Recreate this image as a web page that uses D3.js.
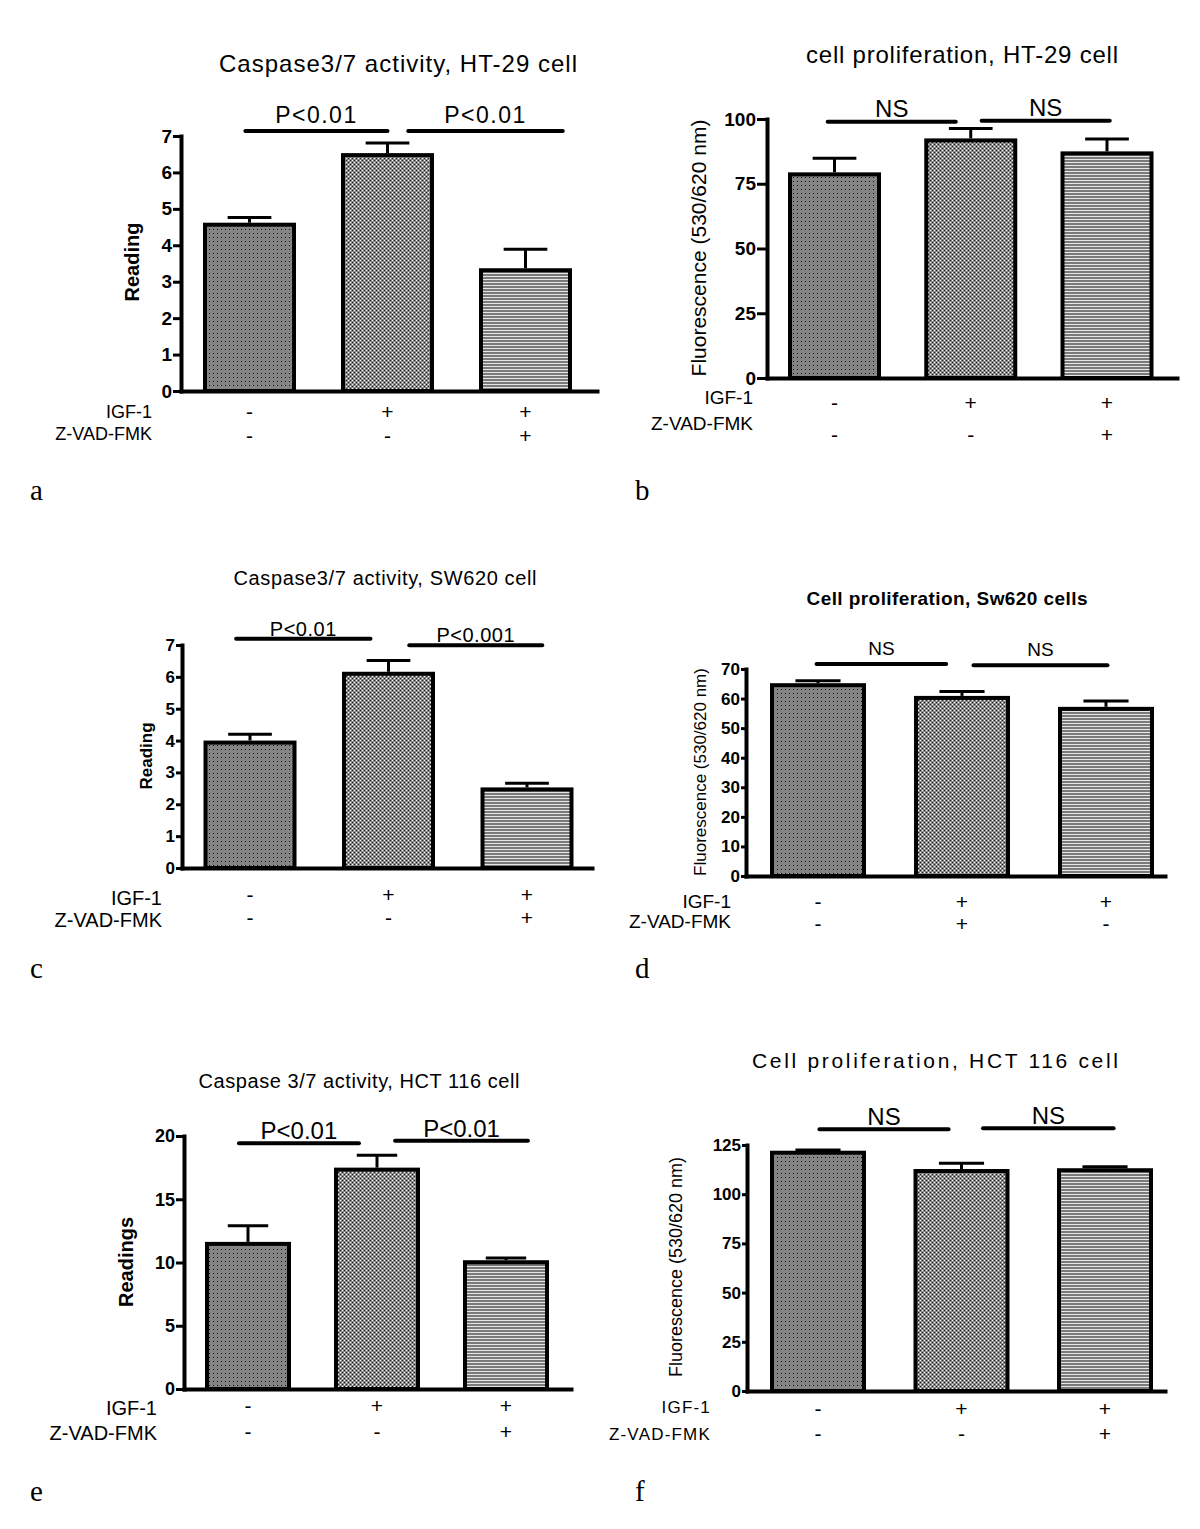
<!DOCTYPE html>
<html>
<head>
<meta charset="utf-8">
<script src="https://cdn.jsdelivr.net/npm/d3@7"></script>
<style>
  body { margin: 0; background: #fff; }
  svg { display: block; }
  text { font-family: "Liberation Sans", Arial, sans-serif; fill: #000; }
  text.letter { font-family: "Liberation Serif", "Times New Roman", serif; }
</style>
</head>
<body>
<svg id="fig" width="1200" height="1529"></svg>
<script>
// ---- data ----
const panelLetters = ['a', 'b', 'c', 'd', 'e', 'f'];
const titles = [
  'Caspase3/7 activity, HT-29 cell',
  'cell proliferation, HT-29 cell',
  'Caspase3/7 activity, SW620 cell',
  'Cell proliferation, Sw620 cells',
  'Caspase 3/7 activity, HCT 116 cell',
  'Cell proliferation, HCT 116 cell'
];
const yTitles = ['Reading', 'Fluorescence  (530/620 nm)', 'Reading',
  'Fluorescence (530/620 nm)', 'Readings', 'Fluorescence (530/620 nm)'];
const yMax = [7, 100, 7, 70, 20, 125];
const yStep = [1, 25, 1, 10, 5, 25];

const means = [
  [4.62, 6.53, 3.37],
  [79.4, 92.5, 87.5],
  [4.00, 6.16, 2.53],
  [65.2, 60.9, 57.2],
  [11.63, 17.5, 10.18],
  [122.1, 112.8, 113.2]
];
const sems = [
  [0.14, 0.28, 0.52],
  [5.4, 3.8, 4.8],
  [0.20, 0.35, 0.13],
  [0.8, 1.5, 2.0],
  [1.27, 0.97, 0.18],
  [0.3, 2.9, 0.8]
];
const igfRow = [
  ['-', '+', '+'], ['-', '+', '+'], ['-', '+', '+'],
  ['-', '+', '+'], ['-', '+', '+'], ['-', '+', '+']
];
const zvadRow = [
  ['-', '-', '+'], ['-', '-', '+'], ['-', '-', '+'],
  ['-', '+', '-'], ['-', '-', '+'], ['-', '-', '+']
];
// [from bar index, to bar index, height in axis units, label]
const sigBars = [
  [[-0.03, 1.0, 7.14, 'P<0.01'], [1.15, 2.27, 7.14, 'P<0.01']],
  [[-0.05, 0.89, 98.96, 'NS'], [1.08, 2.02, 99.3, 'NS']],
  [[-0.10, 0.87, 7.20, 'P<0.01'], [1.15, 2.11, 6.99, 'P<0.001']],
  [[-0.01, 0.89, 71.65, 'NS'], [1.08, 2.01, 71.3, 'NS']],
  [[-0.07, 0.86, 19.42, 'P<0.01'], [1.14, 2.17, 19.63, 'P<0.01']],
  [[0.01, 0.91, 132.98, 'NS'], [1.15, 2.06, 133.5, 'NS']]
];
const rowNames = ['IGF-1', 'Z-VAD-FMK'];

// ---- layout (pixels) ----
const layout = [
  { axisX: 181, axisEnd: 597, y0: 391, yTop: 136, c0: 249.5, c2: 525.5, bw: 93,
    title: [398, 72, 24, 358, 'normal'], ylab: [139, 262, 20, 'bold'], tick: [19, 8],
    rowX: 152, rowY: [418, 440], rowSize: 18, signY: [419, 443],
    sig: [23, 8, 1.5], letter: [30, 500] },
  { axisX: 767, axisEnd: 1177, y0: 378, yTop: 119, c0: 834.5, c2: 1107, bw: 93,
    title: [962, 63, 24, 312, 'normal'], ylab: [706, 248, 21, 'normal'], tick: [19, 10],
    rowX: 753, rowY: [404, 430], rowSize: 19, signY: [410, 442],
    sig: [24, 5, 0], letter: [635, 500] },
  { axisX: 182, axisEnd: 592, y0: 868, yTop: 645, c0: 250, c2: 527, bw: 93,
    title: [385, 585, 20, 303, 'normal'], ylab: [152, 756, 17, 'bold'], tick: [17, 6],
    rowX: 162, rowY: [905, 927], rowSize: 20, signY: [902, 925],
    sig: [20, 3, 0.5], letter: [30, 978] },
  { axisX: 746, axisEnd: 1165, y0: 876, yTop: 669, c0: 818, c2: 1106, bw: 96,
    title: [947, 605, 19, 281, 'bold'], ylab: [706, 772, 17, 'normal'], tick: [17, 5],
    rowX: 731, rowY: [908, 928], rowSize: 19, signY: [909, 931],
    sig: [19, 9, 0], letter: [635, 978] },
  { axisX: 184, axisEnd: 571, y0: 1389, yTop: 1136, c0: 248, c2: 506, bw: 86,
    title: [359, 1088, 20, 321, 'normal'], ylab: [133, 1262, 20, 'bold'], tick: [18, 8],
    rowX: 157, rowY: [1415, 1440], rowSize: 20, signY: [1413, 1439],
    sig: [24, 4, 0], letter: [30, 1501] },
  { axisX: 747, axisEnd: 1165, y0: 1391, yTop: 1145, c0: 818, c2: 1105, bw: 96,
    title: [935, 1068, 21, 366, 'normal'], ylab: [682, 1267, 18, 'normal'], tick: [17, 5],
    rowX: 711, rowY: [1413, 1440], rowSize: 17, signY: [1416, 1441],
    sig: [24, 4, 0], letter: [635, 1501] }
];
const fills = ['dots', 'grid', 'stripes'];

const svg = d3.select('#fig');
svg.append('rect').attr('width', 1200).attr('height', 1529).attr('fill', '#fff');

// hatch patterns like the Prism bars
const defs = svg.append('defs');
const pDots = defs.append('pattern').attr('id', 'dots').attr('patternUnits', 'userSpaceOnUse')
  .attr('width', 4).attr('height', 4);
pDots.append('rect').attr('width', 4).attr('height', 4).attr('fill', '#858585');
pDots.append('rect').attr('x', 1).attr('y', 1).attr('width', 1).attr('height', 1).attr('fill', '#111');

const pGrid = defs.append('pattern').attr('id', 'grid').attr('patternUnits', 'userSpaceOnUse')
  .attr('width', 4).attr('height', 4);
pGrid.append('rect').attr('width', 4).attr('height', 4).attr('fill', '#888');
[[0, 0, '#fff'], [2, 2, '#fff'], [2, 0, '#222'], [0, 2, '#222']].forEach(function (c) {
  pGrid.append('rect').attr('x', c[0]).attr('y', c[1]).attr('width', 1).attr('height', 1).attr('fill', c[2]);
});

const pStripes = defs.append('pattern').attr('id', 'stripes').attr('patternUnits', 'userSpaceOnUse')
  .attr('width', 4).attr('height', 3);
pStripes.append('rect').attr('width', 4).attr('height', 3).attr('fill', '#7a7a7a');
pStripes.append('rect').attr('width', 4).attr('height', 1).attr('fill', '#e6e6e6');

function drawPanel(p) {
  const L = layout[p];
  const n = means[p].length;
  const x = d3.scaleLinear().domain([0, n - 1]).range([L.c0, L.c2]);
  const y = d3.scaleLinear().domain([0, yMax[p]]).range([L.y0, L.yTop]);
  const g = svg.append('g').attr('class', 'panel-' + panelLetters[p]);

  // title
  g.append('text')
    .attr('x', L.title[0]).attr('y', L.title[1])
    .attr('text-anchor', 'middle')
    .attr('font-size', L.title[2])
    .attr('font-weight', L.title[4])
    .attr('textLength', L.title[3])
    .attr('lengthAdjust', 'spacing')
    .text(titles[p]);

  // error bars (drawn under the bars)
  const capW = L.bw * 0.47;
  const err = g.selectAll('g.err').data(means[p]).join('g').attr('class', 'err');
  err.append('line')
    .attr('x1', (d, i) => x(i)).attr('x2', (d, i) => x(i))
    .attr('y1', d => y(d)).attr('y2', (d, i) => y(d + sems[p][i]))
    .attr('stroke', '#000').attr('stroke-width', 3);
  err.append('line')
    .attr('x1', (d, i) => x(i) - capW / 2).attr('x2', (d, i) => x(i) + capW / 2)
    .attr('y1', (d, i) => y(d + sems[p][i])).attr('y2', (d, i) => y(d + sems[p][i]))
    .attr('stroke', '#000').attr('stroke-width', 3);

  // bars
  g.selectAll('rect.bar').data(means[p]).join('rect')
    .attr('class', 'bar')
    .attr('x', (d, i) => x(i) - (L.bw - 4) / 2)
    .attr('y', d => y(d) + 2)
    .attr('width', L.bw - 4)
    .attr('height', d => y(0) - y(d) - 2)
    .attr('fill', (d, i) => 'url(#' + fills[i] + ')')
    .attr('stroke', '#000').attr('stroke-width', 4);

  // y axis
  const ticks = d3.range(0, yMax[p] + yStep[p] / 2, yStep[p]);
  const yAxis = g.append('g')
    .attr('transform', 'translate(' + L.axisX + ',0)')
    .call(d3.axisLeft(y).tickValues(ticks).tickSize(L.tick[1]).tickSizeOuter(0)
      .tickPadding(1).tickFormat(d3.format('d')));
  yAxis.select('.domain').attr('stroke', '#000').attr('stroke-width', 4).attr('stroke-linecap', 'square');
  yAxis.selectAll('.tick line').attr('stroke', '#000').attr('stroke-width', 3);
  yAxis.selectAll('.tick text')
    .attr('font-size', L.tick[0]).attr('font-weight', 'bold').attr('fill', '#000');

  // x axis (no ticks)
  const xAxisScale = d3.scaleLinear().domain([0, 1]).range([L.axisX, L.axisEnd]);
  const xAxis = g.append('g')
    .attr('transform', 'translate(0,' + y(0) + ')')
    .call(d3.axisBottom(xAxisScale).tickValues([]).tickSizeOuter(0));
  xAxis.select('.domain').attr('stroke', '#000').attr('stroke-width', 4).attr('stroke-linecap', 'square');

  // y title
  g.append('text')
    .attr('transform', 'translate(' + L.ylab[0] + ',' + L.ylab[1] + ') rotate(-90)')
    .attr('text-anchor', 'middle')
    .attr('font-size', L.ylab[2])
    .attr('font-weight', L.ylab[3])
    .text(yTitles[p]);

  // significance brackets
  const sg = g.selectAll('g.sig').data(sigBars[p]).join('g').attr('class', 'sig');
  sg.append('line')
    .attr('x1', d => x(d[0])).attr('x2', d => x(d[1]))
    .attr('y1', d => y(d[2])).attr('y2', d => y(d[2]))
    .attr('stroke', '#000').attr('stroke-width', 4).attr('stroke-linecap', 'round');
  sg.append('text')
    .attr('x', d => (x(d[0]) + x(d[1])) / 2)
    .attr('y', d => y(d[2]) - L.sig[1])
    .attr('text-anchor', 'middle')
    .attr('font-size', L.sig[0])
    .attr('letter-spacing', L.sig[2])
    .text(d => d[3]);

  // treatment rows
  [igfRow[p], zvadRow[p]].forEach(function (row, r) {
    g.append('text')
      .attr('x', L.rowX).attr('y', L.rowY[r])
      .attr('text-anchor', 'end')
      .attr('font-size', L.rowSize)
      .attr('letter-spacing', p === 5 ? 1.2 : 0)
      .text(rowNames[r]);
    g.selectAll('text.sign' + r).data(row).join('text')
      .attr('class', 'sign' + r)
      .attr('x', (d, i) => x(i)).attr('y', L.signY[r])
      .attr('text-anchor', 'middle')
      .attr('font-size', 21)
      .text(d => d);
  });

  // panel letter
  g.append('text')
    .attr('class', 'letter')
    .attr('x', L.letter[0]).attr('y', L.letter[1])
    .attr('font-size', 29)
    .text(panelLetters[p]);
}

for (let p = 0; p < panelLetters.length; p++) {
  drawPanel(p);
}
</script>
</body>
</html>
